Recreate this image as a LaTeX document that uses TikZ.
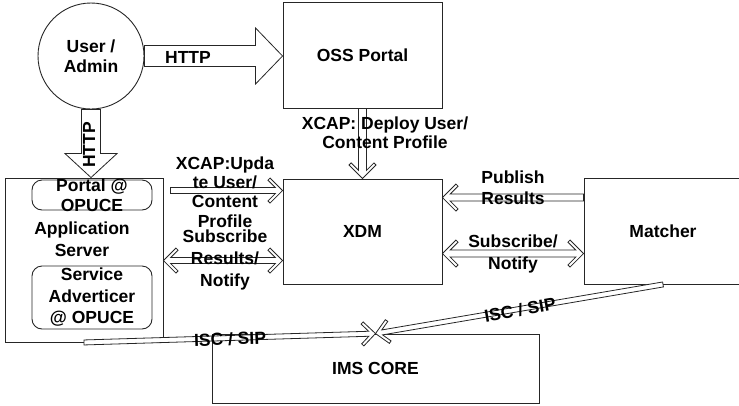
\documentclass[tikz,border=0pt]{standalone}
\usepackage{fontspec}
\setmainfont{Liberation Sans}
\usetikzlibrary{calc}

% angle and length of the segment between two named coordinates
\makeatletter
\newcommand\setframe[2]{%
  \pgfmathanglebetweenpoints{\pgfpointanchor{#1}{center}}{\pgfpointanchor{#2}{center}}%
  \global\let\frameang\pgfmathresult
  \pgfpointdiff{\pgfpointanchor{#1}{center}}{\pgfpointanchor{#2}{center}}%
  \edef\framedx{\the\pgf@x}\edef\framedy{\the\pgf@y}%
  \pgfmathveclen{\framedx}{\framedy}%
  \global\let\framelen\pgfmathresult}
\makeatother

% wide block arrow: tail, tip, shaft half-width, head half-width, head length
\newcommand\blockarrow[5]{%
  \setframe{#1}{#2}%
  \pgfmathsetmacro\cL{\framelen}%
  \pgfmathsetmacro\cC{\cL-#5}%
  \begin{scope}[shift={(#1)}, rotate=\frameang, x=1pt, y=1pt]
    \draw[arrowline] (0,#3) -- (\cC,#3) -- (\cC,#4) -- (\cL,0) -- (\cC,-#4)
      -- (\cC,-#3) -- (0,-#3) -- cycle;
  \end{scope}}

% hollow arrow with an open chevron head: tail, tip, shaft half-width, head half-width, arm thickness
\newcommand\chevarrow[5]{%
  \setframe{#1}{#2}%
  \pgfmathsetmacro\cL{\framelen}%
  \pgfmathsetmacro\cA{\cL-1.4142*#5-#3}%
  \pgfmathsetmacro\cB{\cL-#4-0.7071*#5}%
  \pgfmathsetmacro\cBy{#4-0.7071*#5}%
  \pgfmathsetmacro\cC{\cL-#4}%
  \begin{scope}[shift={(#1)}, rotate=\frameang, x=1pt, y=1pt]
    \draw[arrowline] (0,#3) -- (\cA,#3) -- (\cB,\cBy) -- (\cC,#4) -- (\cL,0)
      -- (\cC,-#4) -- (\cB,-\cBy) -- (\cA,-#3) -- (0,-#3) -- cycle;
  \end{scope}}

% the same with a chevron head at both ends
\newcommand\dchevarrow[5]{%
  \setframe{#1}{#2}%
  \pgfmathsetmacro\cL{\framelen}%
  \pgfmathsetmacro\cA{\cL-1.4142*#5-#3}%
  \pgfmathsetmacro\cB{\cL-#4-0.7071*#5}%
  \pgfmathsetmacro\cBy{#4-0.7071*#5}%
  \pgfmathsetmacro\cC{\cL-#4}%
  \pgfmathsetmacro\cD{1.4142*#5+#3}%
  \pgfmathsetmacro\cE{#4+0.7071*#5}%
  \begin{scope}[shift={(#1)}, rotate=\frameang, x=1pt, y=1pt]
    \draw[arrowline] (\cD,#3) -- (\cA,#3) -- (\cB,\cBy) -- (\cC,#4) -- (\cL,0)
      -- (\cC,-#4) -- (\cB,-\cBy) -- (\cA,-#3) -- (\cD,-#3) -- (\cE,-\cBy)
      -- (#4,-#4) -- (0,0) -- (#4,#4) -- (\cE,\cBy) -- cycle;
  \end{scope}}

\tikzset{
  box/.style={draw=black!85, line width=0.9pt, rectangle, inner sep=0pt},
  rbox/.style={draw=black!85, line width=0.9pt, rectangle, rounded corners=10pt, inner sep=0pt},
  lbl/.style={font=\fontsize{17.5}{#1}\selectfont\bfseries, align=center, inner sep=0pt},
  lbl/.default=20.5,
  arrowline/.style={draw=black!85, line width=0.8pt, fill=white, line join=miter},
}

\begin{document}
\begin{tikzpicture}[x=1pt, y=-1pt]
\useasboundingbox (0,0) rectangle (739,405);

% actors and components
\node[draw=black!85, line width=0.9pt, circle, minimum size=106pt, lbl] (user) at (91,56) {User /\\Admin};
\node[box, minimum width=159pt, minimum height=106pt, lbl] (oss) at (362.5,55) {OSS Portal};
\node[box, minimum width=158pt, minimum height=164pt] (app) at (84,260) {};
\node[rbox, minimum width=120pt, minimum height=30pt] (portal) at (92,195) {};
\node[rbox, minimum width=120pt, minimum height=63pt] (adv) at (92,297.5) {};
\node[box, minimum width=159pt, minimum height=105pt, lbl] (xdm) at (362.5,231.5) {XDM};
\node[box, minimum width=158pt, minimum height=106pt, lbl] (matcher) at (663,231) {Matcher};
\node[box, minimum width=327pt, minimum height=69pt, lbl] (ims) at (375.5,368.5) {IMS CORE};

% end points of the connectors
\coordinate (h1s) at (user.east);
\coordinate (h1e) at (oss.west |- user.east);
\coordinate (h2s) at (user.south);
\coordinate (h2e) at (user.south |- app.north);
\coordinate (d1) at (oss.south);
\coordinate (d2) at (xdm.north);
\coordinate (u1) at ($(app.north east)+(7,13)$);
\coordinate (u2) at (u1 -| xdm.west);
\coordinate (s1) at ($(app.north east)+(0,83)$);
\coordinate (s2) at (s1 -| xdm.west);
\coordinate (p1) at ($(matcher.north west)+(0,20)$);
\coordinate (p2) at (p1 -| xdm.east);
\coordinate (r1) at ($(xdm.north east)+(0,75)$);
\coordinate (r2) at (r1 -| matcher.west);
\coordinate (i1) at (app.south);
\coordinate (i2) at (matcher.south);
\coordinate (i0) at (ims.north);

% connectors
\blockarrow{h1s}{h1e}{10.5}{28}{27}
\blockarrow{h2s}{h2e}{9.5}{26}{24}
\chevarrow{d1}{d2}{4}{13.5}{3}
\chevarrow{u1}{u2}{3}{12.5}{3}
\dchevarrow{s1}{s2}{3}{12.5}{3}
\chevarrow{p1}{p2}{3.5}{13.5}{3}
\dchevarrow{r1}{r2}{3.5}{13.5}{3}
\chevarrow{i1}{i0}{2.5}{12}{3}
\chevarrow{i2}{i0}{2.5}{12}{3}

% texts
\node[lbl] (porttxt) at (portal.center) {Portal @\\OPUCE};
\node[lbl=21.5] (advtxt) at (adv.center) {Service\\Adverticer\\@ OPUCE};
\node[lbl=22] (apptxt) at (82,239) {Application\\Server};
\node[lbl] (httpa) at (188,57) {HTTP};
\node[lbl, rotate=90] (httpb) at (89,145) {HTTP};
\node[lbl=19] (deploy) at (385,133) {XCAP: Deploy User/\\Content Profile};
\node[lbl=19.3] (upd) at (225,192) {XCAP:Upda\\te User/\\Content\\Profile};
\node[lbl=22] (subl) at (225,260) {Subscribe\\Results/\\Notify};
\node[lbl=21] (pub) at (513,187.5) {Publish\\Results};
\node[lbl=22] (subr) at (513,254) {Subscribe/\\Notify};
\node[lbl, rotate=2] (isca) at (230,339) {ISC / SIP};
\node[lbl, rotate=10] (iscb) at (520,310) {ISC / SIP};
\end{tikzpicture}
\end{document}
